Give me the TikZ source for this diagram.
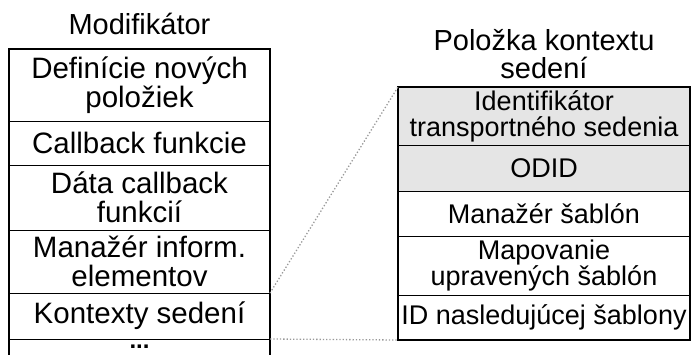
\documentclass[tikz,border=0pt]{standalone}
\usepackage{fontspec}
\setmainfont{Liberation Sans}
\usepackage{tikz}
\usetikzlibrary{positioning}

\begin{document}
\begin{tikzpicture}[x=1pt, y=1pt, node distance=0pt,
    row/.style={rectangle, draw, line width=0.9pt, outer sep=0pt, inner sep=0pt, align=center},
    leftrow/.style={row, minimum width=261pt, font=\fontsize{29.5}{29}\selectfont},
    rightrow/.style={row, minimum width=292pt, font=\fontsize{27}{26}\selectfont},
    shaded/.style={fill=black!10},
    title/.style={inner sep=0pt, align=center, font=\fontsize{29}{28}\selectfont},
    frame/.style={draw, line width=1.6pt},
    zoomline/.style={draw=black!40, dotted, line width=1.3pt}]
        \useasboundingbox (0,0) rectangle (692,354);
        \coordinate (bottom) at (0,-20);
        % Modifikator
        \node[leftrow, minimum height=72pt, anchor=north west] (definicie) at (9,305) {Definície nových\\položiek};
        \node[leftrow, minimum height=44pt, below=of definicie] (callback) {Callback funkcie};
        \node[leftrow, minimum height=65pt, below=of callback] (data) {Dáta callback\\funkcií};
        \node[leftrow, minimum height=63pt, below=of data] (manazer) {Manažér inform.\\elementov};
        \node[leftrow, minimum height=46pt, below=of manazer] (kontexty) {Kontexty sedení};
        \path (kontexty.south) ++(0,-9) node[inner sep=0pt, anchor=base, font=\fontsize{24}{24}\bfseries] (dalsie) {...};
        \draw[frame] (kontexty.south west |- bottom) -- (definicie.north west) -- (definicie.north east) -- (kontexty.south east |- bottom);
        \node[title, above=14pt of definicie] (modifikator) {Modifikátor};
        % Polozka kontextu sedeni
        \node[rightrow, shaded, minimum height=58pt, anchor=north west] (identifikator) at (398,267) {Identifikátor\\transportného sedenia};
        \node[rightrow, shaded, minimum height=46pt, below=of identifikator] (odid) {ODID};
        \node[rightrow, minimum height=45pt, below=of odid] (sablony) {Manažér šablón};
        \node[rightrow, minimum height=59pt, below=of sablony] (mapovanie) {Mapovanie\\upravených šablón};
        \node[rightrow, minimum height=45pt, below=of mapovanie] (nasledujuca) {ID nasledujúcej šablony};
        \draw[frame] (identifikator.north west) rectangle (nasledujuca.south east);
        \node[title, above=8pt of identifikator] (polozka) {Položka kontextu\\sedení};
        % zoom
        \draw[zoomline] (kontexty.north east) -- (identifikator.north west);
        \draw[zoomline] (kontexty.south east) -- (nasledujuca.south west);
    \end{tikzpicture}
\end{document}
